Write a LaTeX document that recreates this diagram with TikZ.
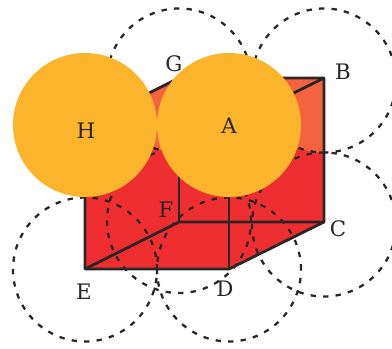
\documentclass[tikz,border=0pt]{standalone}
\usepackage{fontspec}
\setmainfont{DejaVu Serif}
\definecolor{cubered}{HTML}{EE2E30}
\definecolor{cubelight}{HTML}{F4633F}
\definecolor{ballorange}{HTML}{FDB42D}
\definecolor{inkdark}{HTML}{2B2526}
\tikzset{
  orbit/.style={circle,inner sep=0pt,minimum size=108pt,draw=inkdark,line width=1.7pt,dash pattern=on 4pt off 5.4pt},
  ball/.style={circle,inner sep=0pt,minimum size=108pt,fill=ballorange},
  edgeline/.style={draw=inkdark,line width=2.1pt,line join=round},
  lbl/.style={text=inkdark,font=\fontsize{16pt}{18pt}\selectfont,inner sep=0pt}
}
\begin{document}
\begin{tikzpicture}[x=0.75pt,y=-0.75pt]
\useasboundingbox (0,0) rectangle (392,349);
\fill[white] (0,0) rectangle (392,349);
\coordinate (A) at (229,125);
\coordinate (B) at (324,78);
\coordinate (C) at (324,222);
\coordinate (D) at (229,269);
\coordinate (E) at (85,269);
\coordinate (F) at (179,222);
\coordinate (G) at (179,78);
\coordinate (H) at (85,125);
% cube body
\fill[cubered] (E) -- (H) -- (G) -- (B) -- (C) -- (D) -- cycle;
\begin{scope}
  \clip (E) -- (H) -- (G) -- (B) -- (C) -- (D) -- cycle;
  \fill[cubelight] (179,80.5) circle (72);
  \fill[cubelight] (324,80.5) circle (72);
\end{scope}
% edges
\draw[edgeline] (E) -- (H) -- (G) -- (B) -- (C) -- (D) -- cycle;
\draw[edgeline] (H) -- (A) -- (D);
\draw[edgeline] (A) -- (B);
\draw[edgeline] (E) -- (F) -- (C);
\draw[edgeline] (F) -- (G);
% dashed circles
\node[orbit] (cB) at (324,80.5) {};
\node[orbit] (cC) at (324,224.5) {};
\node[orbit] (cD) at (229,269.5) {};
\node[orbit] (cE) at (85,269.5) {};
\node[orbit] (cF) at (179,221) {};
\node[orbit] (cG) at (179,80.5) {};
% solid balls
\node[ball] (cH) at (H) {};
\node[ball] (cA) at (A) {};
% labels
\node[lbl] (lA) at (229,126) {A};
\node[lbl] (lB) at (343,72) {B};
\node[lbl] (lC) at (338,229) {C};
\node[lbl] (lD) at (225,289) {D};
\node[lbl] (lE) at (84,292) {E};
\node[lbl] (lF) at (166,210) {F};
\node[lbl] (lG) at (174,64) {G};
\node[lbl] (lH) at (86,131) {H};
\end{tikzpicture}
\end{document}
